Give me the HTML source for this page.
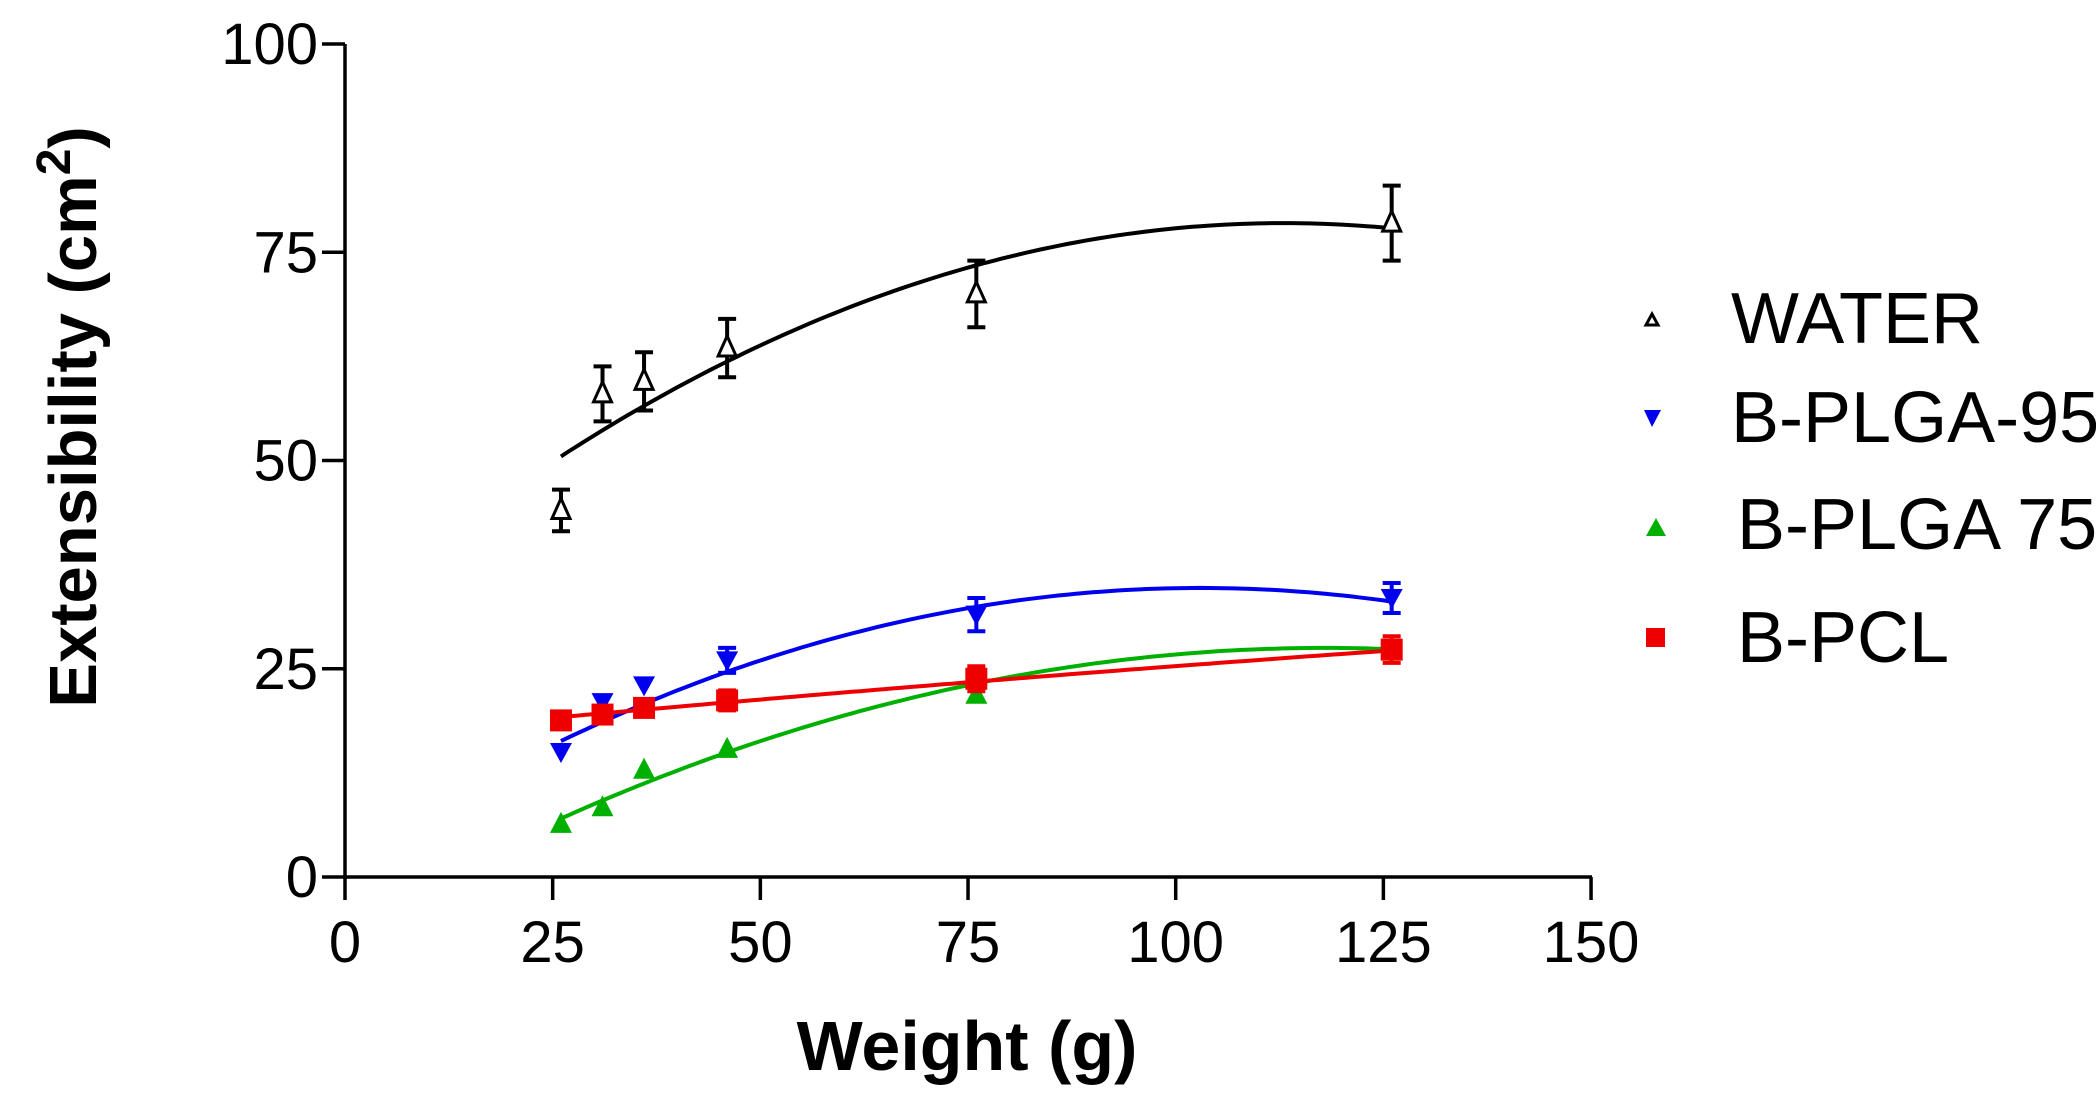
<!DOCTYPE html>
<html><head><meta charset="utf-8"><style>
html,body{margin:0;padding:0;background:#fff;}
svg{display:block;}
text{font-family:"Liberation Sans",Arial,sans-serif;}
</style></head><body>
<svg id="s" width="2096" height="1104" viewBox="0 0 2096 1104" xmlns="http://www.w3.org/2000/svg">
<g id="axes" stroke="#000" stroke-width="3.5" fill="none">
<line x1="345" y1="44" x2="345" y2="879"/>
<line x1="343" y1="877" x2="1592" y2="877"/>
</g>
<g id="ticks" stroke="#000" stroke-width="3.5"></g>
<g id="labels" font-size="58" fill="#000"></g>
<text x="967" y="1070" font-size="70" font-weight="bold" text-anchor="middle">Weight (g)</text>
<text transform="translate(96,417) rotate(-90)" font-size="67" font-weight="bold" text-anchor="middle">Extensibility (cm<tspan dy="-26" font-size="48">2</tspan><tspan dy="26">)</tspan></text>
<g id="data"></g>
<g font-size="72" fill="#000">
<text x="1731" y="343">WATER</text>
<text x="1731" y="442">B-PLGA-95</text>
<text x="1737" y="549">B-PLGA 75</text>
<text x="1737" y="662">B-PCL</text>
</g>
<polygon points="1652,314 1646,325 1658,325" fill="#fff" stroke="#000" stroke-width="3"/>
<polygon points="1644,410 1661,410 1652,427" fill="#0000ee"/>
<polygon points="1656,518 1646,536 1666,536" fill="#00b000"/>
<rect x="1646" y="628" width="19" height="19" fill="#ee0000"/>
</svg>
<script>
var NS="http://www.w3.org/2000/svg";
function X(v){return 345+v*8.307;}
function Y(v){return 877-v*8.33;}
function el(t,a,p){var e=document.createElementNS(NS,t);for(var k in a)e.setAttribute(k,a[k]);p.appendChild(e);return e;}
var tk=document.getElementById('ticks'),lb=document.getElementById('labels'),d=document.getElementById('data');
[0,25,50,75,100].forEach(function(v){el('line',{x1:322,y1:Y(v),x2:345,y2:Y(v)},tk);var t=el('text',{x:318,y:Y(v)+20,'text-anchor':'end'},lb);t.textContent=v;});
[0,25,50,75,100,125,150].forEach(function(v){el('line',{x1:X(v),y1:877,x2:X(v),y2:900},tk);var t=el('text',{x:X(v),y:962,'text-anchor':'middle'},lb);t.textContent=v;});
var xs=[26,31,36,46,76,126];
var S=[
 {c:'#000',m:'open',y:[44,58,59.5,63.5,70,78.5],e:[2.5,3.3,3.5,3.5,4,4.5],f:function(x){return 78.5-0.0037*(x-113)*(x-113);}},
 {c:'#0000ee',m:'down',y:[15,21,23,26,31.5,33.5],e:[0,0,0,1.5,2,1.8],f:function(x){return 34.7-0.0031*(x-103)*(x-103);}},
 {c:'#00b000',m:'up',y:[6.5,8.5,13,15.5,22,27.5],e:[0,0,0,0,0,0],f:function(x){return 27.5-0.00242*(x-118)*(x-118);}},
 {c:'#ee0000',m:'sq',y:[18.8,19.5,20.3,21.2,23.8,27.3],e:[0.8,1,1,1.2,1.5,1.6],f:function(x){return 19.2+0.09*(x-26)-0.0001*(x-26)*(x-26);}}
];
S.forEach(function(s){
 var p='';for(var x=26;x<=126.01;x+=1){p+=(x==26?'M':'L')+X(x).toFixed(1)+','+Y(s.f(x)).toFixed(1);}
 el('path',{d:p,fill:'none',stroke:s.c,'stroke-width':4},d);
 xs.forEach(function(x,i){
  var cx=X(x),cy=Y(s.y[i]),e=s.e[i]*8.33;
  if(e>0){el('line',{x1:cx,y1:cy-e,x2:cx,y2:cy+e,stroke:s.c,'stroke-width':4},d);
   el('line',{x1:cx-9,y1:cy-e,x2:cx+9,y2:cy-e,stroke:s.c,'stroke-width':4},d);
   el('line',{x1:cx-9,y1:cy+e,x2:cx+9,y2:cy+e,stroke:s.c,'stroke-width':4},d);}
  if(s.m=='open')el('polygon',{points:(cx)+','+(cy-12)+' '+(cx-9)+','+(cy+8)+' '+(cx+9)+','+(cy+8),fill:'#fff',stroke:'#000','stroke-width':3},d);
  if(s.m=='down')el('polygon',{points:(cx-11)+','+(cy-9)+' '+(cx+11)+','+(cy-9)+' '+cx+','+(cy+11),fill:s.c},d);
  if(s.m=='up')el('polygon',{points:cx+','+(cy-11)+' '+(cx-11)+','+(cy+10)+' '+(cx+11)+','+(cy+10),fill:s.c},d);
  if(s.m=='sq')el('rect',{x:cx-11,y:cy-11,width:22,height:22,fill:s.c},d);
 });
});
</script>
</body></html>
